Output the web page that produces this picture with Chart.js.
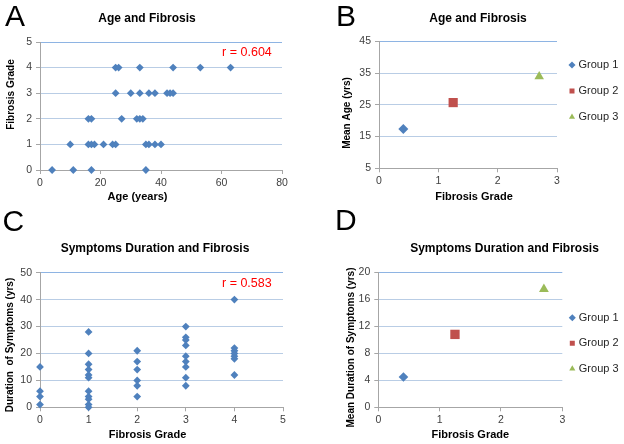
<!DOCTYPE html>
<html><head><meta charset="utf-8">
<script src="https://cdn.jsdelivr.net/npm/chart.js@4.4.1/dist/chart.umd.min.js"></script>
<style>
html,body{margin:0;padding:0;background:#fff;}
body{width:624px;height:444px;position:relative;overflow:hidden;font-family:Arial,"Liberation Sans",sans-serif;}
canvas{position:absolute;display:block;}
.letter{position:absolute;font-size:30px;line-height:30px;color:#000;font-family:Arial,"Liberation Sans",sans-serif;}
</style></head>
<body>
<canvas id="chartA" width="310" height="210" style="left:0;top:0;width:310px;height:210px"></canvas>
<canvas id="chartB" width="314" height="210" style="left:310px;top:0;width:314px;height:210px"></canvas>
<canvas id="chartC" width="310" height="222" style="left:0;top:222px;width:310px;height:222px"></canvas>
<canvas id="chartD" width="314" height="222" style="left:310px;top:222px;width:314px;height:222px"></canvas>
<div class="letter" style="left:5px;top:0.6px">A</div>
<div class="letter" style="left:336px;top:0.6px">B</div>
<div class="letter" style="left:2.5px;top:205.6px">C</div>
<div class="letter" style="left:335px;top:204.6px">D</div>
<script>
// ---------------- DATA ----------------
// Panel A: age (years) of each patient, listed per fibrosis grade
const fibrosisGrades = [0, 1, 2, 3, 4];
const ageGrade0 = [4, 11, 17, 35];
const ageGrade1 = [10, 16, 17, 18, 21, 24, 25, 35, 36, 38, 40];
const ageGrade2 = [16, 17, 27, 32, 33, 34];
const ageGrade3 = [25, 30, 33, 36, 38, 42, 43, 44];
const ageGrade4 = [25, 26, 33, 44, 53, 63];

// Panel C: duration of symptoms (yrs) of each patient, listed per fibrosis grade
const durationGrade0 = [15, 6, 4, 1];
const durationGrade1 = [28, 20, 16, 14, 12, 11, 6, 4, 3, 1, 0];
const durationGrade2 = [21, 17, 14, 10, 8, 4];
const durationGrade3 = [30, 26, 25, 23, 19, 17, 15, 11, 8];
const durationGrade4 = [40, 22, 21, 20, 19, 18, 12];

// Panels B and D: group means
const groupLabels = ['Group 1', 'Group 2', 'Group 3'];
const groupMeanGrade = [0.41, 1.25, 2.70];
const groupMeanAge = [17.4, 25.7, 33.9];
const groupMeanDuration = [4.5, 10.8, 17.5];

// Correlation labels
const rAgeText = 'r = 0.604';
const rDurationText = 'r = 0.583';

// Axis ranges / tick steps
const ageAxisX = {min: 0, max: 80, step: 20};
const gradeAxisY = {min: 0, max: 5, step: 1};
const meanGradeAxisX = {min: 0, max: 3, step: 1};
const meanAgeAxisY = {min: 5, max: 45, step: 10};
const gradeAxisX = {min: 0, max: 5, step: 1};
const durationAxisY = {min: 0, max: 50, step: 10};
const meanDurationAxisY = {min: 0, max: 20, step: 4};

// ---------------- STYLE ----------------
const FONT = 'Arial, "Liberation Sans", sans-serif';
const AXIS_GREY = '#A6A6A6';
const GRID_BLUE = '#B9CDE5';
const GRID_TOP = '#8EB4E3';
const BLUE = '#4F81BD';
const groupColors = ['#4F81BD', '#C0504D', '#9BBB59'];
const groupMarkers = ['rectRot', 'rect', 'triangle'];
const groupRadiusB = [5, 6.5, 5.5];
const groupRadiusD = [4.8, 6.6, 5.7];

// ---------------- PLUGINS ----------------
const nudgePlugin = {
  id: 'nudge',
  afterLayout(chart, args, o) {
    const t = chart.titleBlock;
    if (t && o.titleDx) { t.left += o.titleDx; t.right += o.titleDx; }
    const l = chart.legend;
    if (l && l.options.display) {
      const dx = o.legendDx || 0, dy = o.legendDy || 0;
      l.left += dx; l.right += dx; l.top += dy; l.bottom += dy;
    }
  }
};
const axisTitlePlugin = {
  id: 'axisTitles',
  afterDraw(chart, args, o) {
    const {ctx, chartArea: a} = chart;
    const xs = chart.options.scales.x.title, ys = chart.options.scales.y.title;
    ctx.save();
    ctx.fillStyle = '#000';
    ctx.textAlign = 'center';
    ctx.textBaseline = 'middle';
    if (o.x) {
      ctx.font = 'bold 11px ' + FONT;
      ctx.fillText(xs.text, (a.left + a.right) / 2 + o.x.dx, a.bottom + o.x.dy);
    }
    if (o.y) {
      ctx.font = 'bold 10px ' + FONT;
      ctx.translate(a.left + o.y.dx, (a.top + a.bottom) / 2 + o.y.dy);
      ctx.rotate(-Math.PI / 2);
      ctx.fillText(ys.text, 0, 0);
    }
    ctx.restore();
  }
};
const rLabelPlugin = {
  id: 'rLabel',
  afterDatasetsDraw(chart, args, o) {
    if (!o.text) return;
    const {ctx, scales: {x, y}} = chart;
    ctx.save();
    ctx.font = '12.5px ' + FONT;
    ctx.fillStyle = '#FF0000';
    ctx.textAlign = 'left';
    ctx.textBaseline = 'middle';
    ctx.fillText(o.text, x.getPixelForValue(o.x), y.getPixelForValue(o.y));
    ctx.restore();
  }
};

function axis(range, extra) {
  return Object.assign({
    type: 'linear',
    min: range.min, max: range.max,
    ticks: {stepSize: range.step, color: '#404040', font: {family: FONT, size: 10.5}, autoSkip: false, maxRotation: 0, includeBounds: true},
    border: {color: AXIS_GREY, width: 1}
  }, extra);
}

function buildOptions(o) {
  return {
    responsive: false,
    animation: false,
    events: [],
    layout: {padding: {left: 0, top: 0, bottom: 0, right: o.padRight}},
    plugins: {
      legend: o.legend || {display: false},
      tooltip: {enabled: false},
      title: {display: true, text: o.title, color: '#000',
        font: {family: FONT, size: 12, weight: 'bold', lineHeight: 1.2},
        padding: {top: o.titleTop, bottom: o.titleBottom}},
      nudge: {titleDx: o.titleDx, legendDx: o.legendDx, legendDy: o.legendDy},
      axisTitles: o.axisTitles,
      rLabel: o.rLabel || {}
    },
    scales: {
      x: axis(o.xRange, {
        position: 'bottom',
        grid: {drawOnChartArea: false, drawTicks: true, tickLength: 4, tickColor: AXIS_GREY},
        ticks: Object.assign(axis(o.xRange).ticks, {padding: 3}),
        title: {display: false, text: o.xTitle},
        afterFit: s => { s.height = o.xHeight; }
      }),
      y: axis(o.yRange, {
        position: 'left',
        grid: {drawOnChartArea: true, drawTicks: true, tickLength: 4, tickColor: AXIS_GREY, lineWidth: 1,
          color: c => c.index === 0 ? AXIS_GREY : (c.tick && c.tick.value === o.yRange.max ? GRID_TOP : GRID_BLUE)},
        ticks: Object.assign(axis(o.yRange).ticks, {padding: 4}),
        title: {display: false, text: o.yTitle},
        afterFit: s => { s.width = o.yWidth; }
      })
    }
  };
}

function pointsByGrade(lists) {
  return lists.flatMap((vals, g) => vals.map(v => ({grade: fibrosisGrades[g], v})));
}

const plugins = [nudgePlugin, axisTitlePlugin, rLabelPlugin];

// ---------------- PANEL A ----------------
new Chart(document.getElementById('chartA'), {
  type: 'scatter',
  data: {datasets: [{
    label: 'Age vs fibrosis',
    data: pointsByGrade([ageGrade0, ageGrade1, ageGrade2, ageGrade3, ageGrade4]).map(p => ({x: p.v, y: p.grade})),
    pointStyle: 'rectRot', pointRadius: 3.9, borderWidth: 0, clip: false,
    backgroundColor: BLUE, borderColor: BLUE
  }]},
  options: buildOptions({
    title: 'Age and Fibrosis', titleTop: 11.1, titleBottom: 16.5, titleDx: 6,
    padRight: 28, xRange: ageAxisX, yRange: gradeAxisY, xHeight: 40, yWidth: 40,
    xTitle: 'Age (years)', yTitle: 'Fibrosis Grade',
    axisTitles: {x: {dx: -23.5, dy: 26.7}, y: {dx: -28.3, dy: -11.5}},
    rLabel: {text: rAgeText, x: 60.2, y: 4.57}
  }),
  plugins
});

// ---------------- PANEL C ----------------
new Chart(document.getElementById('chartC'), {
  type: 'scatter',
  data: {datasets: [{
    label: 'Duration vs fibrosis',
    data: pointsByGrade([durationGrade0, durationGrade1, durationGrade2, durationGrade3, durationGrade4]).map(p => ({x: p.grade, y: p.v})),
    pointStyle: 'rectRot', pointRadius: 3.9, borderWidth: 0, clip: false,
    backgroundColor: BLUE, borderColor: BLUE
  }]},
  options: buildOptions({
    title: 'Symptoms Duration and Fibrosis', titleTop: 19.8, titleBottom: 16.5, titleDx: 13.5,
    padRight: 27, xRange: gradeAxisX, yRange: durationAxisY, xHeight: 36.7, yWidth: 40,
    xTitle: 'Fibrosis Grade', yTitle: 'Duration  of Symptoms (yrs)',
    axisTitles: {x: {dx: -14, dy: 27.7}, y: {dx: -29.7, dy: 5}},
    rLabel: {text: rDurationText, x: 3.745, y: 45.8}
  }),
  plugins
});

// ---------------- PANELS B & D ----------------
function groupDatasets(values, radii) {
  return groupLabels.map((label, i) => ({
    label,
    data: [{x: groupMeanGrade[i], y: values[i]}],
    pointStyle: groupMarkers[i], pointRadius: radii[i], borderWidth: 0, clip: false,
    backgroundColor: groupColors[i], borderColor: groupColors[i]
  }));
}
function groupLegend(maxWidth, pad) {
  return {
    display: true, position: 'right', align: 'start', fullSize: false, maxWidth,
    labels: {usePointStyle: true, boxWidth: 2, boxHeight: 5, padding: pad, color: '#262626',
      font: {family: FONT, size: 11}}
  };
}

new Chart(document.getElementById('chartB'), {
  type: 'scatter',
  data: {datasets: groupDatasets(groupMeanAge, groupRadiusB)},
  options: buildOptions({
    title: 'Age and Fibrosis', titleTop: 11.1, titleBottom: 15.8, titleDx: 11,
    padRight: 0, xRange: meanGradeAxisX, yRange: meanAgeAxisY, xHeight: 41.7, yWidth: 69,
    xTitle: 'Fibrosis Grade', yTitle: 'Mean Age (yrs)',
    axisTitles: {x: {dx: 6, dy: 28.4}, y: {dx: -31.3, dy: 8.2}},
    legend: groupLegend(67, 15), legendDx: -1, legendDy: 3.2
  }),
  plugins
});

new Chart(document.getElementById('chartD'), {
  type: 'scatter',
  data: {datasets: groupDatasets(groupMeanDuration, groupRadiusD)},
  options: buildOptions({
    title: 'Symptoms Duration and Fibrosis', titleTop: 19.8, titleBottom: 16.1, titleDx: 37.5,
    padRight: 0, xRange: meanGradeAxisX, yRange: meanDurationAxisY, xHeight: 36.7, yWidth: 68.3,
    xTitle: 'Fibrosis Grade', yTitle: 'Mean Duration of Symptoms (yrs)',
    axisTitles: {x: {dx: 0, dy: 27.7}, y: {dx: -27.3, dy: 7.7}},
    legend: groupLegend(61.7, 14.5), legendDx: -5.5, legendDy: 25.4
  }),
  plugins
});
</script>
</body></html>
